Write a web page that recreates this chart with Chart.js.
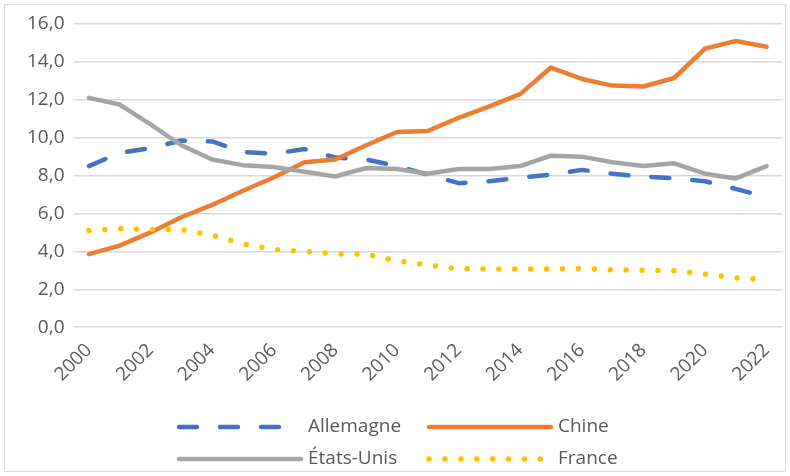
<!DOCTYPE html>
<html>
<head>
<meta charset="utf-8">
<script src="https://cdn.jsdelivr.net/npm/chart.js@4.4.0/dist/chart.umd.min.js"></script>
<style>
  html, body { margin: 0; padding: 0; background: #fff; }
  #wrap { width: 790px; height: 476px; position: relative; }
</style>
</head>
<body>
<div id="wrap"><canvas id="myChart"></canvas></div>
<script>
const years = ['2000', '2001', '2002', '2003', '2004', '2005', '2006', '2007', '2008', '2009', '2010', '2011',
  '2012', '2013', '2014', '2015', '2016', '2017', '2018', '2019', '2020', '2021', '2022'];

const allemagne = [8.5, 9.2, 9.45, 9.85, 9.8, 9.25, 9.15, 9.4, 8.95, 8.85, 8.5, 8.05,
  7.6, 7.7, 7.9, 8.05, 8.3, 8.1, 7.95, 7.85, 7.7, 7.3, 6.85];
const chine = [3.85, 4.3, 5.0, 5.8, 6.45, 7.2, 7.9, 8.7, 8.85, 9.6, 10.3, 10.35,
  11.05, 11.65, 12.3, 13.7, 13.1, 12.75, 12.7, 13.15, 14.7, 15.1, 14.8];
const etatsUnis = [12.1, 11.75, 10.7, 9.6, 8.85, 8.55, 8.45, 8.2, 7.95, 8.4, 8.35, 8.1,
  8.35, 8.35, 8.5, 9.05, 9.0, 8.7, 8.5, 8.65, 8.1, 7.85, 8.5];
const france = [5.1, 5.2, 5.15, 5.15, 4.85, 4.4, 4.1, 4.0, 3.87, 3.85, 3.5, 3.28,
  3.08, 3.07, 3.07, 3.07, 3.1, 3.03, 3.0, 2.98, 2.8, 2.6, 2.52];

const FONT = "'Open Sans', sans-serif";
const TEXT = '#595959';

// legend drawn Excel-style in a 2x2 grid
const excelLegend = {
  id: 'excelLegend',
  beforeDraw(chart) {
    const c = chart.ctx;
    c.save();
    c.fillStyle = '#fff';
    c.fillRect(0, 0, chart.width, chart.height);
    c.strokeStyle = '#d9d9d9';
    c.lineWidth = 1;
    c.strokeRect(4.5, 4.5, chart.width - 9, chart.height - 9);
    c.restore();
  },
  afterDraw(chart) {
    const c = chart.ctx;
    const slots = [[177, 427], [427, 427], [177, 459], [427, 459]];
    chart.data.datasets.forEach((ds, i) => {
      const [x, y] = slots[i];
      c.save();
      c.strokeStyle = ds.borderColor;
      c.lineWidth = ds.borderWidth;
      c.lineCap = ds.borderCapStyle || 'butt';
      c.setLineDash(ds.borderDash || []);
      c.beginPath();
      c.moveTo(x + 2, y);
      c.lineTo(x + 124, y);
      c.stroke();
      c.setLineDash([]);
      c.fillStyle = TEXT;
      c.font = '19px ' + FONT;
      c.textBaseline = 'middle';
      c.fillText(ds.label, x + 131, y);
      c.restore();
    });
  }
};

const ctx = document.getElementById('myChart');

new Chart(ctx, {
  type: 'line',
  data: {
    labels: years,
    datasets: [
      {
        label: 'Allemagne',
        data: allemagne,
        borderColor: '#4472C4',
        borderWidth: 4.5,
        borderDash: [18, 23],
        borderCapStyle: 'round',
        order: 3,
      },
      {
        label: 'Chine',
        data: chine,
        borderColor: '#ED7D31',
        borderWidth: 4.5,
        borderCapStyle: 'round',
        order: 2,
      },
      {
        label: 'États-Unis',
        data: etatsUnis,
        borderColor: '#A5A5A5',
        borderWidth: 4.5,
        borderCapStyle: 'round',
        order: 1,
      },
      {
        label: 'France',
        data: france,
        borderColor: '#FFC000',
        borderWidth: 5.5,
        borderDash: [0.01, 15.9],
        borderCapStyle: 'round',
        order: 0,
      },
    ],
  },
  options: {
    responsive: true,
    maintainAspectRatio: false,
    animation: false,
    elements: {
      point: { radius: 0, hoverRadius: 0 },
      line: { tension: 0, borderJoinStyle: 'round' },
    },
    layout: {
      padding: { left: 18, right: 8, top: 24, bottom: 86 },
    },
    scales: {
      x: {
        offset: true,
        grid: { display: false },
        border: { display: false },
        ticks: {
          autoSkip: false,
          minRotation: 45,
          maxRotation: 45,
          padding: 4,
          color: TEXT,
          font: { family: FONT, size: 19 },
          callback: (v, i) => (i % 2 === 0 ? years[i] : null),
        },
      },
      y: {
        min: 0,
        max: 16,
        grid: { color: '#d9d9d9', lineWidth: 1.5, drawTicks: false },
        border: { display: false },
        ticks: {
          stepSize: 2,
          padding: 9,
          color: TEXT,
          font: { family: FONT, size: 19 },
          callback: (v) => v.toFixed(1).replace('.', ','),
        },
      },
    },
    plugins: {
      legend: { display: false },
      tooltip: { enabled: false },
    },
  },
  plugins: [excelLegend],
});
</script>
</body>
</html>
